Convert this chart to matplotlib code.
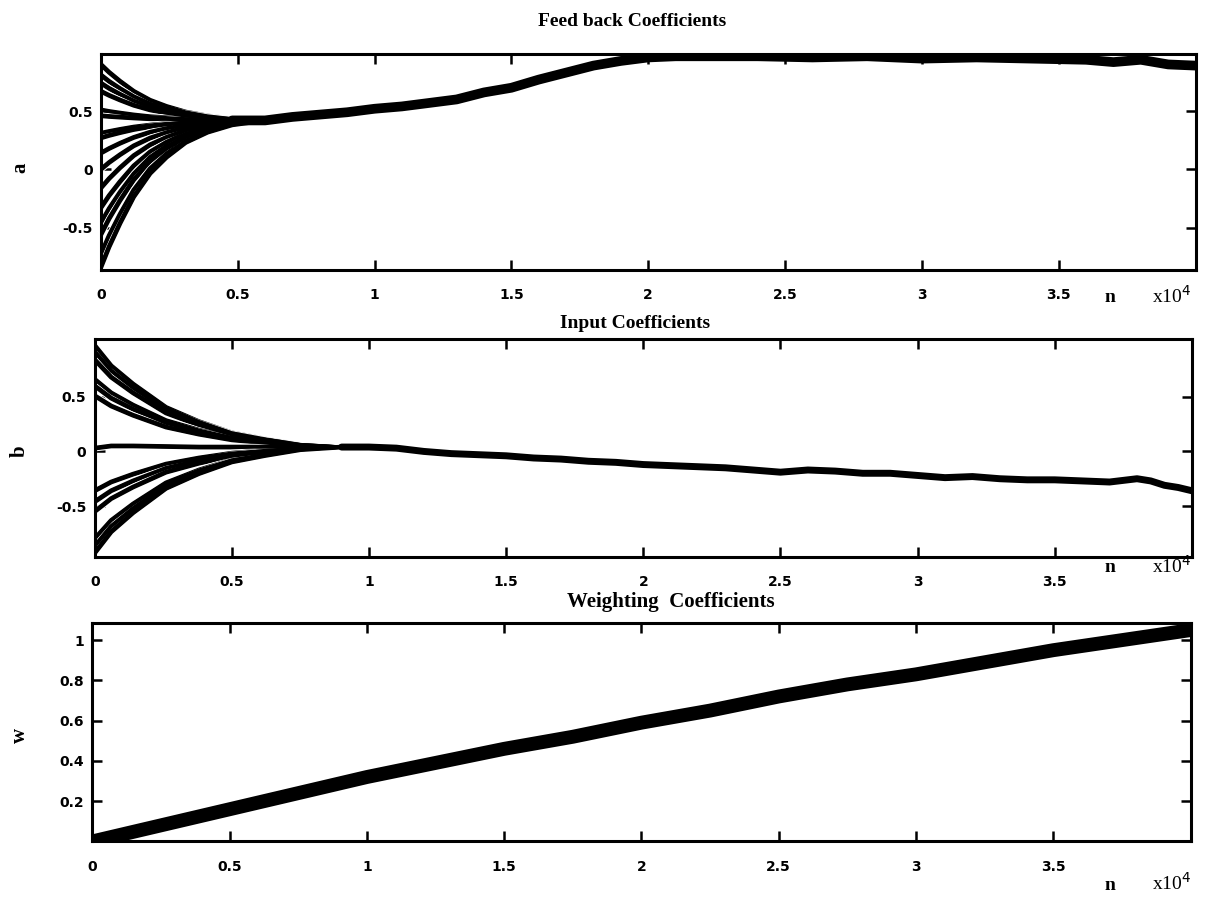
import matplotlib
matplotlib.use("Agg")
import matplotlib.pyplot as plt
import matplotlib.patheffects as pe

# n axis is in units of 1e4
xticks = [0, 0.5, 1, 1.5, 2, 2.5, 3, 3.5]
xticklabels = ["0", "0.5", "1", "1.5", "2", "2.5", "3", "3.5"]

# --- Feed back coefficients (a) ---
a_n_tr = [0, 0.03, 0.07, 0.12, 0.18, 0.24, 0.31, 0.39, 0.48, 0.6]
a_tr = [
    [0.90, 0.833, 0.756, 0.670, 0.593, 0.540, 0.492, 0.458, 0.434, 0.42],
    [0.81, 0.755, 0.693, 0.623, 0.560, 0.518, 0.479, 0.451, 0.432, 0.42],
    [0.74, 0.695, 0.644, 0.586, 0.535, 0.500, 0.468, 0.446, 0.430, 0.42],
    [0.67, 0.635, 0.595, 0.550, 0.510, 0.483, 0.458, 0.440, 0.428, 0.42],
    [0.51, 0.497, 0.483, 0.467, 0.452, 0.443, 0.434, 0.427, 0.423, 0.42],
    [0.46, 0.454, 0.448, 0.441, 0.434, 0.430, 0.426, 0.423, 0.421, 0.42],
    [0.31, 0.325, 0.343, 0.363, 0.380, 0.393, 0.404, 0.411, 0.417, 0.42],
    [0.27, 0.291, 0.315, 0.342, 0.366, 0.383, 0.398, 0.408, 0.416, 0.42],
    [0.14, 0.179, 0.224, 0.274, 0.319, 0.350, 0.378, 0.398, 0.412, 0.42],
    [0.00, 0.059, 0.126, 0.202, 0.269, 0.315, 0.357, 0.386, 0.407, 0.42],
    [-0.16, -0.079, 0.014, 0.118, 0.211, 0.275, 0.333, 0.374, 0.403, 0.42],
    [-0.33, -0.225, -0.105, 0.030, 0.150, 0.233, 0.308, 0.360, 0.398, 0.42],
    [-0.46, -0.337, -0.196, -0.040, 0.103, 0.200, 0.288, 0.350, 0.394, 0.42],
    [-0.56, -0.423, -0.266, -0.090, 0.067, 0.175, 0.273, 0.342, 0.391, 0.42],
    [-0.73, -0.569, -0.385, -0.178, 0.006, 0.133, 0.248, 0.328, 0.386, 0.42],
    [-0.84, -0.664, -0.462, -0.235, -0.034, 0.105, 0.231, 0.319, 0.382, 0.42],
]
a_n = [0.48, 0.6, 0.7, 0.8, 0.9, 1.0, 1.1, 1.2, 1.3, 1.4, 1.5, 1.6, 1.7, 1.8, 1.9,
       2.0, 2.1, 2.2, 2.4, 2.6, 2.8, 3.0, 3.2, 3.4, 3.6, 3.7, 3.8, 3.9, 4.0]
a_v = [0.42, 0.42, 0.45, 0.47, 0.49, 0.52, 0.54, 0.57, 0.60, 0.66, 0.70, 0.77, 0.83, 0.89, 0.93,
       0.96, 0.97, 0.97, 0.97, 0.96, 0.97, 0.95, 0.96, 0.95, 0.94, 0.92, 0.94, 0.90, 0.89]

# --- Input coefficients (b) ---
b_n_tr = [0, 0.06, 0.14, 0.26, 0.38, 0.5, 0.62, 0.75, 0.9]
b_tr = [
    [0.97, 0.784, 0.617, 0.403, 0.273, 0.170, 0.114, 0.063, 0.04],
    [0.91, 0.736, 0.579, 0.379, 0.258, 0.162, 0.110, 0.062, 0.04],
    [0.84, 0.680, 0.536, 0.352, 0.240, 0.152, 0.104, 0.060, 0.04],
    [0.66, 0.536, 0.424, 0.282, 0.195, 0.127, 0.090, 0.056, 0.04],
    [0.60, 0.488, 0.387, 0.258, 0.180, 0.118, 0.085, 0.054, 0.04],
    [0.51, 0.416, 0.331, 0.223, 0.158, 0.106, 0.078, 0.052, 0.04],
    [0.03, 0.05, 0.05, 0.045, 0.04, 0.04, 0.04, 0.04, 0.04],
    [-0.36, -0.280, -0.208, -0.116, -0.060, -0.016, 0.008, 0.030, 0.04],
    [-0.46, -0.360, -0.270, -0.155, -0.085, -0.030, 0.000, 0.028, 0.04],
    [-0.55, -0.432, -0.326, -0.190, -0.108, -0.043, -0.007, 0.025, 0.04],
    [-0.80, -0.632, -0.481, -0.288, -0.170, -0.078, -0.027, 0.019, 0.04],
    [-0.87, -0.688, -0.524, -0.315, -0.188, -0.087, -0.033, 0.017, 0.04],
    [-0.93, -0.736, -0.561, -0.338, -0.203, -0.096, -0.038, 0.016, 0.04],
]
b_n = [0.9, 1.0, 1.1, 1.2, 1.3, 1.4, 1.5, 1.6, 1.7, 1.8, 1.9, 2.0, 2.1, 2.2, 2.3, 2.4, 2.5,
       2.6, 2.7, 2.8, 2.9, 3.0, 3.1, 3.2, 3.3, 3.4, 3.5, 3.6, 3.7, 3.8, 3.85, 3.9, 3.95, 4.0]
b_v = [0.04, 0.04, 0.03, 0.0, -0.02, -0.03, -0.04, -0.06, -0.07, -0.09, -0.10, -0.12, -0.13,
       -0.14, -0.15, -0.17, -0.19, -0.17, -0.18, -0.20, -0.20, -0.22, -0.24, -0.23, -0.25,
       -0.26, -0.26, -0.27, -0.28, -0.25, -0.27, -0.31, -0.33, -0.36]

# --- Weighting coefficients (w) ---
w_n = [0, 0.25, 0.5, 0.75, 1.0, 1.25, 1.5, 1.75, 2.0, 2.25, 2.5, 2.75, 3.0, 3.25, 3.5, 3.75, 4.0]
w_v = [0.0, 0.08, 0.16, 0.24, 0.32, 0.39, 0.46, 0.52, 0.59, 0.65, 0.72, 0.78, 0.83, 0.89, 0.95, 1.0, 1.05]

fig = plt.figure(figsize=(12.3, 8.99), dpi=100)
ax_a = fig.add_axes([0.082, 0.700, 0.890, 0.240])
ax_b = fig.add_axes([0.077, 0.380, 0.892, 0.243])
ax_w = fig.add_axes([0.075, 0.064, 0.893, 0.243])

outline = [pe.Stroke(linewidth=4.8, foreground="white"), pe.Normal()]

# transients: white-edged strokes, then a black core pass so the bundle merges black
for row in a_tr:
    ax_a.plot(a_n_tr, row, color="black", lw=3.4, path_effects=outline)
for row in a_tr:
    ax_a.plot(a_n_tr, row, color="black", lw=2.4, solid_capstyle="round")
ax_a.plot(a_n, a_v, color="black", lw=7, solid_capstyle="round")
ax_a.set_ylim(-0.86, 0.99)
ax_a.set_yticks([-0.5, 0, 0.5])
ax_a.set_yticklabels(["-0.5", "0", "0.5"])

for row in b_tr:
    ax_b.plot(b_n_tr, row, color="black", lw=3.4, path_effects=outline)
for row in b_tr:
    ax_b.plot(b_n_tr, row, color="black", lw=2.4, solid_capstyle="round")
ax_b.plot(b_n, b_v, color="black", lw=5, solid_capstyle="round")
ax_b.set_ylim(-0.97, 1.03)
ax_b.set_yticks([-0.5, 0, 0.5])
ax_b.set_yticklabels(["-0.5", "0", "0.5"])

ax_w.plot(w_n, w_v, color="black", lw=10)
ax_w.set_ylim(0, 1.085)
ax_w.set_yticks([0.2, 0.4, 0.6, 0.8, 1.0])
ax_w.set_yticklabels(["0.2", "0.4", "0.6", "0.8", "1"])

for ax in (ax_a, ax_b, ax_w):
    ax.set_xlim(0, 4)
    ax.set_xticks(xticks)
    ax.set_xticklabels(xticklabels)
    ax.tick_params(direction="in", length=7, width=1.8, top=True, right=True,
                   labelsize=10, pad=6)
    ax.tick_params(axis="x", pad=13)
    for lab in ax.get_xticklabels() + ax.get_yticklabels():
        lab.set_fontweight("bold")
    for s in ax.spines.values():
        s.set_linewidth(2.2)

serif = "Liberation Serif"
fig.text(632 / 1230, 1 - 22 / 899, "Feed back Coefficients", family=serif, fontsize=14,
         fontweight="bold", ha="center", va="center")
fig.text(635 / 1230, 1 - 323 / 899, "Input Coefficients", family=serif, fontsize=14,
         fontweight="bold", ha="center", va="center")
fig.text(671 / 1230, 1 - 602 / 899, "Weighting  Coefficients", family=serif, fontsize=15,
         fontweight="bold", ha="center", va="center")

for ylab, ypx in (("a", 168), ("b", 451), ("w", 735)):
    fig.text(20 / 1230, 1 - ypx / 899, ylab, family=serif, fontsize=15, fontweight="bold",
             rotation=90, ha="center", va="center")

for ypx in (298, 568, 885):
    fig.text(1110 / 1230, 1 - ypx / 899, "n", family=serif, fontsize=14, fontweight="bold",
             ha="center", va="center")
    fig.text(1172 / 1230, 1 - (ypx - 2) / 899, r"x10$^4$", family=serif, fontsize=14,
             ha="center", va="center")

fig.savefig("out.png", dpi=100)
